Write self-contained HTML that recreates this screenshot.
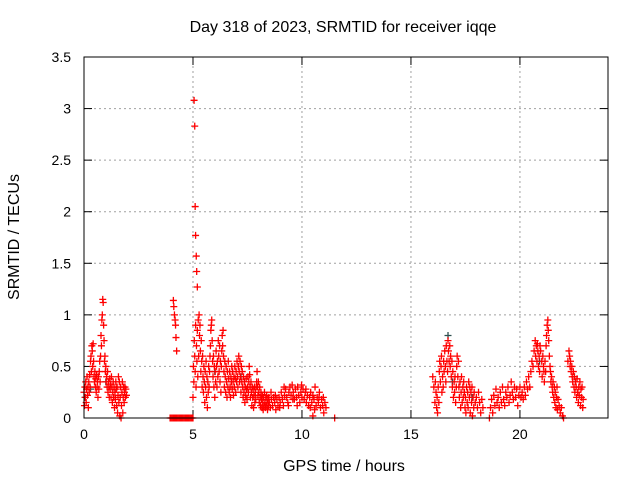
<!DOCTYPE html>
<html><head><meta charset="utf-8"><style>
body{margin:0;background:#fff}
svg{display:block;font-family:"Liberation Sans",sans-serif}
</style></head><body>
<svg id="chart" width="640" height="480">
<rect width="640" height="480" fill="#fff"/>
<text x="343" y="32" font-size="16" text-anchor="middle">Day 318 of 2023, SRMTID for receiver iqqe</text>
<text x="344" y="471" font-size="16" text-anchor="middle">GPS time / hours</text>
<text transform="translate(19,237) rotate(-90)" font-size="16" text-anchor="middle">SRMTID / TECUs</text>
<g id="grid"></g>
<g id="ticks"></g>
<g id="marks"></g>
<rect x="84" y="57" width="524" height="361" fill="none" stroke="#000" stroke-width="1"/>
</svg>
<script>
const xTicks=[0,5,10,15,20];
const yTicks=[0,0.5,1,1.5,2,2.5,3,3.5];
const yTickLabels=["0","0.5","1","1.5","2","2.5","3","3.5"];
// [hours, TECU] pairs per pass
const passA=[[0,.25],[.02,.12],[.04,.3],[.06,.2],[.08,.35],[.1,.15],[.12,.28],[.14,.4],[.16,.22],[.18,.3],[.2,.1],[.22,.35],[.24,.25],[.26,.42],[.28,.3],[.3,.55],[.32,.6],[.34,.45],[.36,.7],[.38,.65],[.4,.5],[.42,.72],[.44,.55],[.46,.4],[.48,.35],[.5,.45],[.52,.3],[.54,.38],[.56,.25],[.58,.42],[.6,.3],[.62,.35],[.64,.2],[.66,.4],[.68,.28],[.7,.45],[.72,.55],[.74,.35],[.76,.6],[.78,.8],[.8,.7],[.82,.95],[.84,1.0],[.86,1.15],[.88,1.12],[.9,.9],[.92,.75],[.94,.55],[.96,.6],[.98,.45],[1.0,.5],[1.02,.35],[1.04,.4],[1.06,.3],[1.08,.45],[1.1,.25],[1.12,.35],[1.14,.3],[1.16,.2],[1.18,.38],[1.2,.28],[1.22,.33],[1.24,.2],[1.26,.4],[1.28,.3],[1.3,.15],[1.32,.25],[1.34,.35],[1.36,.2],[1.38,.3],[1.4,.1],[1.42,.25],[1.44,.18],[1.46,.35],[1.48,.28],[1.5,.12],[1.52,.3],[1.54,.05],[1.56,.22],[1.58,.4],[1.6,.15],[1.62,.35],[1.64,.02],[1.66,.2],[1.68,.3],[1.7,0],[1.72,.12],[1.74,.25],[1.76,.35],[1.78,.05],[1.8,.2],[1.82,.3],[1.84,.15],[1.86,.25],[1.88,.3],[1.9,.2],[1.92,.28],[1.95,.22]];
const passB=[[4.1,1.14],[4.12,1.08],[4.15,1.0],[4.18,.95],[4.2,.9],[4.22,.78],[4.25,.65],[3.95,0],[4.0,0],[4.05,0],[4.1,0],[4.15,0],[4.2,0],[4.25,0],[4.3,0],[4.35,0],[4.4,0],[4.45,0],[4.5,0],[4.55,0],[4.6,0],[4.65,0],[4.7,0],[4.75,0],[4.8,0],[4.85,0],[4.9,0],[4.95,0],[5.0,0]];
const passC=[[5.05,3.08],[5.08,2.83],[5.1,2.05],[5.12,1.77],[5.15,1.57],[5.17,1.42],[5.2,1.27],[5.0,.2],[5.02,.5],[5.04,.35],[5.06,.75],[5.08,.6],[5.1,.45],[5.12,.9],[5.14,.3],[5.16,.7],[5.18,.55],[5.2,.85],[5.22,.4],[5.24,.95],[5.26,.6],[5.28,1.0],[5.3,.8],[5.32,.9],[5.34,.65],[5.36,.45],[5.38,.75],[5.4,.55],[5.42,.3],[5.44,.6],[5.46,.4],[5.48,.25],[5.5,.5],[5.52,.35],[5.54,.15],[5.56,.45],[5.58,.3],[5.6,.55],[5.62,.2],[5.64,.4],[5.66,.1],[5.68,.35],[5.7,.25],[5.72,.5],[5.74,.3],[5.76,.45],[5.78,.6],[5.8,.7],[5.82,.85],[5.84,.9],[5.86,.95],[5.88,.75],[5.9,.55],[5.92,.4],[5.94,.6],[5.96,.3],[5.98,.5],[6.0,.2],[6.02,.45],[6.04,.35],[6.06,.65],[6.08,.5],[6.1,.3],[6.12,.55],[6.14,.4],[6.16,.75],[6.18,.6],[6.2,.45],[6.22,.7],[6.24,.35],[6.26,.55],[6.28,.25],[6.3,.5],[6.32,.65],[6.34,.8],[6.36,.7],[6.38,.85],[6.4,.6],[6.42,.45],[6.44,.3],[6.46,.55],[6.48,.4],[6.5,.25],[6.52,.5],[6.54,.35],[6.56,.2],[6.58,.45],[6.6,.3],[6.62,.55],[6.64,.38],[6.66,.25],[6.68,.45],[6.7,.3],[6.72,.2],[6.74,.4],[6.76,.35],[6.78,.5],[6.8,.28],[6.82,.45],[6.84,.35],[6.86,.22],[6.88,.4],[6.9,.3],[6.92,.5],[6.94,.38],[6.96,.25],[6.98,.45],[7.0,.35],[7.02,.55],[7.04,.4],[7.06,.3],[7.08,.5],[7.1,.6],[7.12,.45],[7.14,.35],[7.16,.55],[7.18,.4],[7.2,.25],[7.22,.5],[7.24,.35],[7.26,.45],[7.28,.3],[7.3,.2],[7.32,.4],[7.34,.25],[7.36,.35],[7.38,.15],[7.4,.3],[7.42,.22],[7.44,.38],[7.46,.28],[7.48,.18],[7.5,.3],[7.52,.4],[7.54,.25],[7.56,.35],[7.58,.5],[7.6,.42],[7.62,.3],[7.64,.2],[7.66,.35],[7.68,.25],[7.7,.12],[7.72,.3],[7.74,.2],[7.76,.28],[7.78,.1],[7.8,.22],[7.82,.3],[7.84,.15],[7.86,.25],[7.88,.18],[7.9,.3],[7.92,.35],[7.94,.45],[7.96,.3],[7.98,.22],[8.0,.35],[8.02,.25],[8.04,.15],[8.06,.3],[8.08,.2],[8.1,.12],[8.12,.25],[8.14,.18],[8.16,.1],[8.18,.22],[8.2,.15],[8.22,.08],[8.24,.2],[8.26,.12],[8.28,.25],[8.3,.15],[8.32,.1],[8.34,.2],[8.36,.12],[8.38,.22],[8.4,.15],[8.42,.08],[8.44,.18],[8.46,.12],[8.48,.2],[8.5,.15],[8.55,.1],[8.6,.18],[8.65,.12],[8.7,.2],[8.75,.15],[8.8,.08],[8.85,.18],[8.9,.12],[8.95,.2],[9.0,.15],[9.05,.25],[9.1,.18],[9.15,.12],[9.2,.22],[9.25,.28],[9.3,.2],[9.35,.15],[9.4,.25],[9.45,.3],[9.5,.22],[9.55,.32],[9.6,.25],[9.65,.18],[9.7,.28],[9.75,.2],[9.8,.3],[9.85,.22],[9.9,.15],[9.95,.25],[10.0,.2],[10.05,.28],[10.1,.18],[10.15,.25],[10.2,.15],[10.25,.22],[10.3,.12],[10.35,.2],[10.4,.25],[10.45,.15],[10.5,.22],[10.55,.18],[10.6,.3],[10.65,.12],[10.7,.2],[10.75,.15],[10.8,.25],[10.85,.1],[10.9,.18],[10.95,.12],[11.0,.05],[11.05,.15],[11.1,.1],[11.5,0],
[8.58,.25],[8.78,.22],[8.98,.1],[9.18,.3],[9.38,.12],[9.58,.18],[9.78,.12],[9.98,.32],[10.18,.28],[10.38,.1],[10.58,.08],[10.78,.2],[10.98,.2],[10.5,.02]];
const passD=[[16.0,.4],[16.05,.3],[16.1,.15],[16.12,.35],[16.15,.25],[16.18,.1],[16.2,.2],[16.22,.05],[16.25,.3],[16.28,.15],[16.3,.45],[16.32,.55],[16.35,.35],[16.38,.5],[16.4,.6],[16.42,.25],[16.45,.4],[16.48,.3],[16.5,.55],[16.52,.45],[16.55,.65],[16.58,.5],[16.6,.35],[16.62,.7],[16.65,.55],[16.68,.45],[16.7,.75],[16.72,.65],[16.75,.55],[16.78,.7],[16.8,.5],[16.82,.6],[16.85,.4],[16.88,.55],[16.9,.3],[16.92,.45],[16.95,.2],[16.98,.35],[17.0,.25],[17.02,.4],[17.05,.15],[17.08,.3],[17.1,.5],[17.12,.6],[17.15,.4],[17.18,.55],[17.2,.3],[17.22,.2],[17.25,.35],[17.28,.1],[17.3,.25],[17.32,.4],[17.35,.15],[17.38,.3],[17.4,.2],[17.42,.35],[17.45,.25],[17.48,.1],[17.5,.2],[17.52,.05],[17.55,.3],[17.58,.15],[17.6,.25],[17.62,.1],[17.65,.35],[17.68,.2],[17.7,.3],[17.72,.05],[17.75,.25],[17.78,.15],[17.8,.3],[17.82,.02],[17.85,.2],[17.88,.1],[17.9,.25],[17.95,.15],[18.0,.2],[18.05,.1],[18.1,.25],[18.15,.15],[18.2,.05],[18.25,.18],[18.3,.1]];
const passE=[[18.6,0],[18.65,.1],[18.7,.18],[18.75,.05],[18.8,.22],[18.85,.12],[18.9,.28],[18.95,.15],[19.0,.2],[19.05,.1],[19.1,.25],[19.15,.15],[19.2,.3],[19.25,.18],[19.3,.12],[19.35,.25],[19.4,.2],[19.45,.3],[19.5,.15],[19.55,.22],[19.6,.35],[19.65,.25],[19.7,.18],[19.75,.3],[19.8,.2],[19.85,.28],[19.9,.12],[19.95,.22],[20.0,.3],[20.05,.2],[20.1,.25],[20.15,.18],[20.2,.3],[20.25,.22],[20.3,.35],[20.35,.28],[20.4,.4],[20.45,.3],[20.5,.45],[20.55,.55],[20.6,.5],[20.65,.65],[20.7,.75],[20.72,.6],[20.75,.7],[20.78,.55],[20.8,.72],[20.82,.65],[20.85,.5],[20.88,.6],[20.9,.45],[20.92,.7],[20.95,.65],[21.0,.55],[21.02,.4],[21.05,.6],[21.08,.5],[21.1,.45],[21.12,.35],[21.15,.55],[21.18,.45],[21.2,.7],[21.22,.8],[21.25,.9],[21.28,.95],[21.3,.85],[21.32,.75],[21.35,.6],[21.38,.5],[21.4,.45],[21.42,.35],[21.45,.4],[21.48,.3],[21.5,.25],[21.52,.35],[21.55,.2],[21.58,.3],[21.6,.15],[21.62,.25],[21.65,.1],[21.68,.2],[21.7,.3],[21.72,.08],[21.75,.18],[21.8,.12],[21.85,.05],[21.9,.1],[21.95,.02],[22.0,0]];
const passF=[[22.2,.55],[22.25,.65],[22.28,.6],[22.3,.5],[22.32,.55],[22.35,.45],[22.38,.5],[22.4,.4],[22.42,.35],[22.45,.45],[22.48,.3],[22.5,.4],[22.52,.25],[22.55,.35],[22.58,.3],[22.6,.2],[22.62,.38],[22.65,.25],[22.68,.15],[22.7,.3],[22.72,.22],[22.75,.35],[22.78,.12],[22.8,.28],[22.82,.2],[22.85,.3],[22.88,.1],[22.9,.18]];
const darkPoints=[[0.05,.2],[0.3,.28],[1.0,.35],[6.0,.45],[7.2,.4],[16.7,.8],[16.9,.35],[17.8,.2],[20.9,.55],[22.5,.4]];

const X0=84,X1=608,XMAX=24.04,Y0=418,Y1=57,YMAX=3.5;
const xs=t=>X0+(X1-X0)*t/XMAX;
const ys=v=>Y0-(Y0-Y1)*v/YMAX;
const NS="http://www.w3.org/2000/svg";
const grid=document.getElementById('grid'),ticks=document.getElementById('ticks'),marks=document.getElementById('marks');
function mk(tag,attrs,parent){const e=document.createElementNS(NS,tag);for(const k in attrs)e.setAttribute(k,attrs[k]);parent.appendChild(e);return e;}
xTicks.forEach(t=>{
  const x=xs(t);
  if(t>0){const g=mk('line',{x1:x,x2:x,y1:Y0,y2:Y1,stroke:'#a0a0a0','stroke-dasharray':'2,3'},grid);
  
  }
  mk('line',{x1:x,x2:x,y1:Y0,y2:Y0-8,stroke:'#000'},ticks);
  mk('line',{x1:x,x2:x,y1:Y1,y2:Y1+8,stroke:'#000'},ticks);
  const l=mk('text',{x:x,y:Y0+21,'font-size':14,'text-anchor':'middle'},ticks);
  l.textContent=String(t);
  
  
});
yTicks.forEach((v,i)=>{
  const y=ys(v);
  if(v>0&&v<YMAX){const g=mk('line',{x1:X0,x2:X1,y1:y,y2:y,stroke:'#a0a0a0','stroke-dasharray':'2,3'},grid);
  
  }
  mk('line',{x1:X0,x2:X0+8,y1:y,y2:y,stroke:'#000'},ticks);
  mk('line',{x1:X1,x2:X1-8,y1:y,y2:y,stroke:'#000'},ticks);
  const l=mk('text',{x:X0-13,y:y+5,'font-size':14,'text-anchor':'end'},ticks);
  l.textContent=yTickLabels[i];
  
  
});
function plus(t,v,color,name){
  const x=xs(t),y=ys(v);
  const p=mk('path',{d:`M${x-3.5},${y}H${x+3.5}M${x},${y-3.5}V${y+3.5}`,stroke:color,'stroke-width':1.3,fill:'none'},marks);
  
  
}
darkPoints.forEach(p=>plus(p[0],p[1],'#2f4f4f','point-dark'));
[passA,passB,passC,passD,passE,passF].forEach(pass=>pass.forEach(p=>plus(p[0],p[1],'#ff0000','point-srmtid')));
</script>
</body></html>
